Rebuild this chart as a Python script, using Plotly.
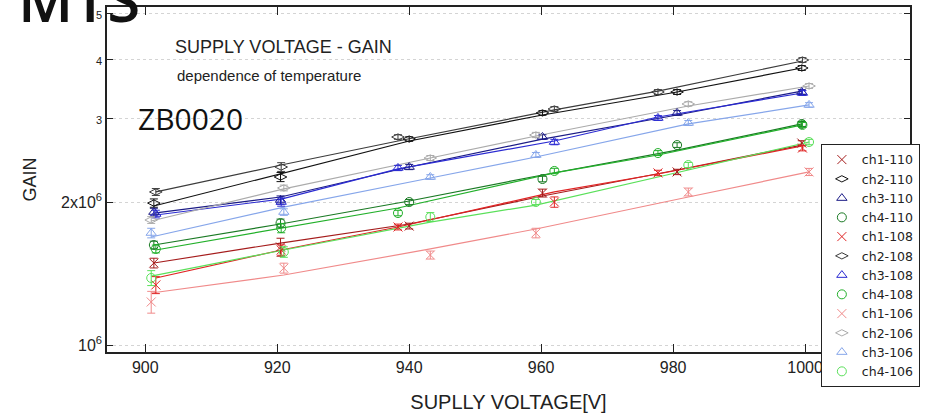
import plotly.graph_objects as go

GAIN_UNIT = 1e6  # gains below are in units of 10^6

# measurement voltages per temperature group
V110 = [901.3, 920.5, 940.0, 960.2, 980.6, 999.5]
V108 = [901.6, 920.6, 938.3, 962.0, 977.7, 999.6]
V106 = [900.9, 921.0, 943.2, 959.2, 982.3, 1000.6]

# measured gain (x10^6)
ch1_110 = [1.488, 1.608, 1.780, 2.089, 2.314, 2.662]
ch2_110 = [1.990, 2.258, 2.714, 3.080, 3.409, 3.830]
ch3_110 = [1.905, 2.020, 2.370, 2.741, 3.080, 3.409]
ch4_110 = [1.624, 1.806, 2.000, 2.236, 2.636, 2.920]
ch1_108 = [1.338, 1.585, 1.772, 2.000, 2.303, 2.598]
ch2_108 = [2.100, 2.370, 2.741, 3.140, 3.409, 3.981]
ch3_108 = [1.887, 2.000, 2.359, 2.675, 3.006, 3.393]
ch4_108 = [1.593, 1.763, 1.896, 2.325, 2.536, 2.906]
ch1_106 = [1.232, 1.452, 1.547, 1.721, 2.100, 2.314]
ch2_106 = [1.833, 2.141, 2.476, 2.768, 3.217, 3.510]
ch3_106 = [1.721, 1.905, 2.258, 2.512, 2.934, 3.202]
ch4_106 = [1.384, 1.570, 1.860, 2.000, 2.393, 2.675]

# error bars (x10^6)
err1_110 = [0.035, 0.070, 0.025, 0.040, 0.030, 0.030]
err2_110 = [0.040, 0.050, 0.030, 0.035, 0.040, 0.045]
err3_110 = [0.035, 0.040, 0.030, 0.030, 0.035, 0.040]
err4_110 = [0.030, 0.035, 0.025, 0.030, 0.030, 0.035]
err1_108 = [0.055, 0.040, 0.025, 0.050, 0.030, 0.035]
err2_108 = [0.035, 0.050, 0.030, 0.035, 0.040, 0.045]
err3_108 = [0.035, 0.040, 0.030, 0.035, 0.035, 0.040]
err4_108 = [0.030, 0.040, 0.025, 0.030, 0.030, 0.035]
err1_106 = [0.065, 0.035, 0.030, 0.040, 0.040, 0.040]
err2_106 = [0.030, 0.030, 0.030, 0.035, 0.035, 0.040]
err3_106 = [0.040, 0.030, 0.025, 0.030, 0.035, 0.035]
err4_106 = [0.050, 0.040, 0.040, 0.025, 0.030, 0.035]

# fitted curves (x10^6), at the same voltages
fit1_110 = [1.488, 1.639, 1.798, 2.059, 2.336, 2.636]
fit2_110 = [1.962, 2.291, 2.688, 3.050, 3.409, 3.830]
fit3_110 = [1.896, 2.049, 2.370, 2.714, 3.050, 3.425]
fit4_110 = [1.624, 1.798, 2.010, 2.280, 2.573, 2.920]
fit1_108 = [1.384, 1.585, 1.772, 2.100, 2.291, 2.624]
fit2_108 = [2.100, 2.393, 2.688, 3.125, 3.425, 3.962]
fit3_108 = [1.878, 2.029, 2.348, 2.688, 3.020, 3.393]
fit4_108 = [1.585, 1.763, 1.943, 2.303, 2.512, 2.906]
fit1_106 = [1.287, 1.404, 1.593, 1.755, 2.049, 2.314]
fit2_106 = [1.824, 2.131, 2.476, 2.754, 3.186, 3.510]
fit3_106 = [1.688, 1.952, 2.247, 2.488, 2.920, 3.202]
fit4_106 = [1.397, 1.585, 1.815, 1.971, 2.336, 2.675]

names = ["ch1-110", "ch2-110", "ch3-110", "ch4-110",
         "ch1-108", "ch2-108", "ch3-108", "ch4-108",
         "ch1-106", "ch2-106", "ch3-106", "ch4-106"]
volts = [V110] * 4 + [V108] * 4 + [V106] * 4
gains = [ch1_110, ch2_110, ch3_110, ch4_110, ch1_108, ch2_108, ch3_108, ch4_108,
         ch1_106, ch2_106, ch3_106, ch4_106]
errs = [err1_110, err2_110, err3_110, err4_110, err1_108, err2_108, err3_108, err4_108,
        err1_106, err2_106, err3_106, err4_106]
fits = [fit1_110, fit2_110, fit3_110, fit4_110, fit1_108, fit2_108, fit3_108, fit4_108,
        fit1_106, fit2_106, fit3_106, fit4_106]
colors = ["#a51c1c", "#111111", "#1c1c86", "#1a7a24",
          "#e02424", "#3c3c3c", "#2a2ad2", "#22b02a",
          "#f08a8a", "#ababab", "#86a6ea", "#5ae05a"]
symbols = ["x-thin-open", "diamond-wide-open", "triangle-up-open", "circle-open"] * 3

fig = go.Figure()
for v, f, c in zip(volts, fits, colors):
    fig.add_trace(go.Scatter(x=v, y=[g * GAIN_UNIT for g in f], mode="lines",
                             line=dict(color=c, width=1.2), showlegend=False,
                             hoverinfo="skip"))
for n, v, g, e, c, s in zip(names, volts, gains, errs, colors, symbols):
    fig.add_trace(go.Scatter(
        x=v, y=[val * GAIN_UNIT for val in g], mode="markers", name=n,
        marker=dict(symbol=s, size=9, color=c, line=dict(color=c, width=1)),
        error_y=dict(type="data", array=[val * GAIN_UNIT for val in e],
                     color=c, thickness=1, width=4)))

FONT = "Liberation Sans"
small = '<span style="font-size:11px">%s</span>'
fig.update_layout(
    width=935, height=414,
    margin=dict(l=107, r=25, t=7, b=62, autoexpand=False),
    paper_bgcolor="white", plot_bgcolor="white",
    font=dict(family=FONT, color="#222222", size=16),
    showlegend=True,
    legend=dict(x=0.889, y=0.603, xanchor="left", yanchor="top",
                bordercolor="#222222", borderwidth=1, bgcolor="white",
                font=dict(family="DejaVu Sans", size=12.5, color="#222222"),
                tracegroupgap=0),
    xaxis=dict(range=[894.2, 1015.9], tickvals=[900, 920, 940, 960, 980, 1000],
               ticks="inside", ticklen=8, tickwidth=1.2, tickcolor="#222",
               showline=True, linecolor="#222", linewidth=1.5, mirror="ticks",
               showgrid=False, zeroline=False, automargin=False,
               tickfont=dict(size=16),
               title=dict(text="SUPLLY VOLTAGE[V]", font=dict(size=20), standoff=20)),
    yaxis=dict(type="log", range=[5.9853, 6.7116],
               tickvals=[1e6, 2e6, 3e6, 4e6, 5e6],
               ticktext=["10<sup>6</sup>", "2x10<sup>6</sup>", small % "3", small % "4", small % "5"],
               ticks="inside", ticklen=6, tickwidth=1.2, tickcolor="#222",
               showline=True, linecolor="#222", linewidth=1.5, mirror="ticks",
               showgrid=True, gridcolor="#d4d4d4", griddash="dot", gridwidth=1,
               zeroline=False, automargin=False, tickfont=dict(size=16),
               title=dict(text="GAIN", font=dict(size=18), standoff=20)),
)

fig.add_annotation(text="SUPPLY VOLTAGE - GAIN", xref="paper", yref="paper",
                   x=(173 - 107) / 803, y=(352 - 47) / 345, xanchor="left", yanchor="middle",
                   showarrow=False, font=dict(size=18, color="#222"))
fig.add_annotation(text="dependence of temperature", xref="paper", yref="paper",
                   x=(175 - 107) / 803, y=(352 - 76) / 345, xanchor="left", yanchor="middle",
                   showarrow=False, font=dict(size=15, color="#222"))
fig.add_annotation(text="ZB0020", xref="paper", yref="paper",
                   x=(136 - 107) / 803, y=(352 - 119) / 345, xanchor="left", yanchor="middle",
                   showarrow=False, font=dict(family="Open Sans", size=30, color="#111"))
fig.add_annotation(text="MTS", xref="paper", yref="paper",
                   x=(16 - 107) / 803, y=(352 - 42) / 345, xanchor="left", yanchor="bottom",
                   showarrow=False, font=dict(family="Open Sans", size=60, color="#111", weight=600))

fig.write_html("out.html")
